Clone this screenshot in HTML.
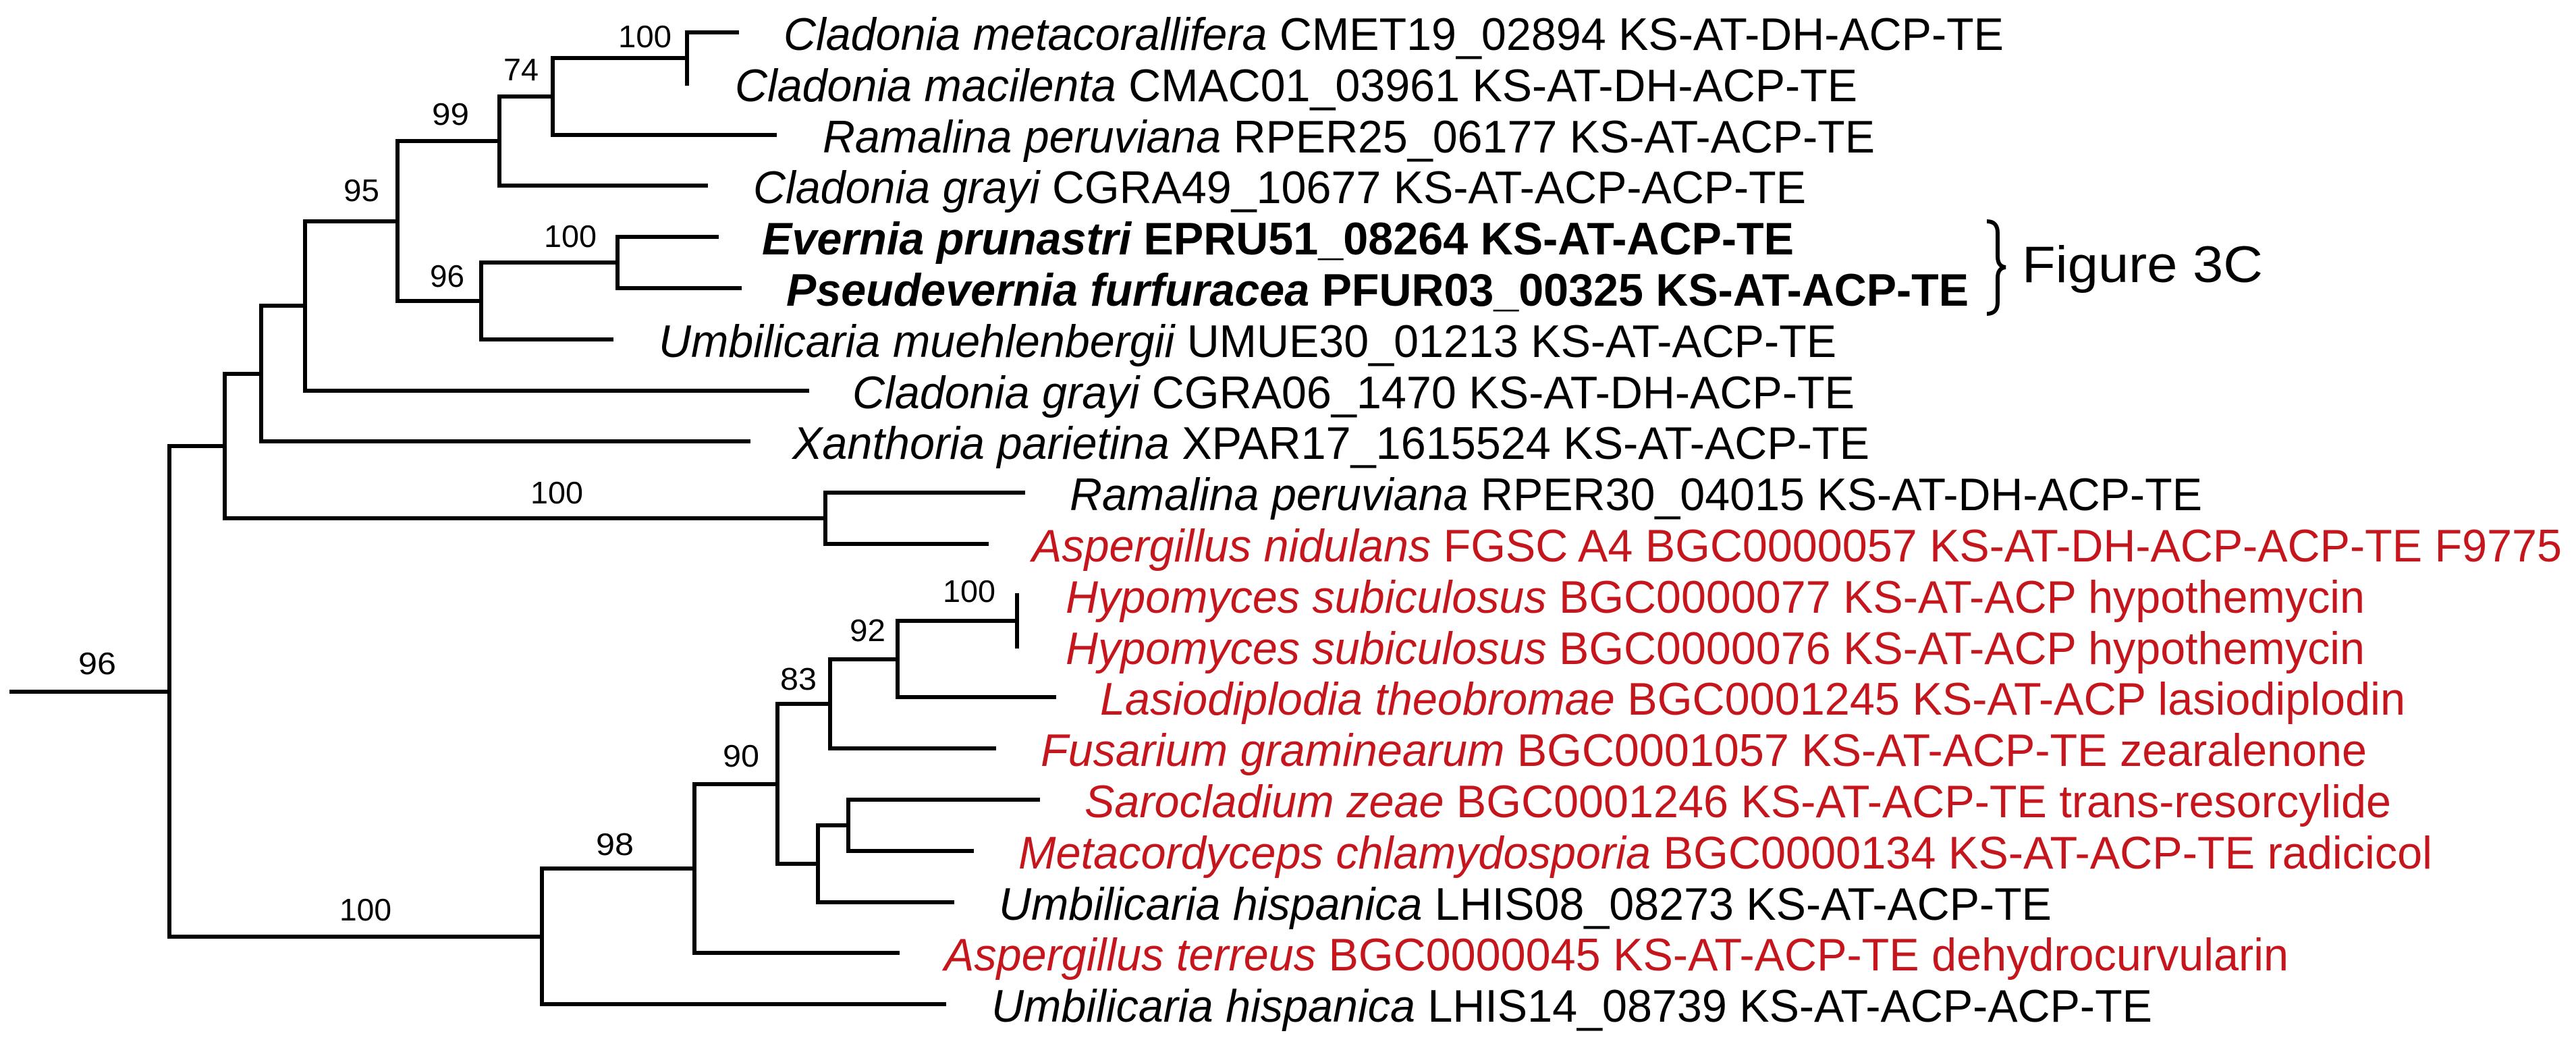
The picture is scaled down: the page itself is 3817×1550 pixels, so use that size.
<!DOCTYPE html>
<html><head><meta charset="utf-8"><style>
html,body{margin:0;padding:0;background:#fff}
svg{display:block}
text{font-family:"Liberation Sans",Arial,sans-serif}
.t{font-size:68px}
.l{font-size:46px}
.r{fill:#c4161c}
</style></head><body>
<svg width="3817" height="1550" viewBox="0 0 3817 1550" xmlns="http://www.w3.org/2000/svg">
<g stroke="#000" stroke-width="6" fill="none" stroke-linecap="square">
<path d="M17 1025H251M251 661V1388"/>
<path d="M251 661H333M333 554V768"/>
<path d="M333 554H387M387 453V654"/>
<path d="M387 654H1109"/>
<path d="M387 453H452M452 328V579"/>
<path d="M452 579H1196"/>
<path d="M452 328H589M589 209V446"/>
<path d="M589 209H740M740 143V275"/>
<path d="M740 275H1046"/>
<path d="M740 143H819M819 86V200"/>
<path d="M819 200H1148"/>
<path d="M819 86H1018M1018 48V124"/>
<path d="M1018 48H1092"/>
<path d="M589 446H713M713 389V503"/>
<path d="M713 503H906"/>
<path d="M713 389H915M915 351V427"/>
<path d="M915 351H1062M915 427H1096"/>
<path d="M333 768H1223M1223 730V806"/>
<path d="M1223 730H1516M1223 806H1462"/>
<path d="M251 1388H803M803 1287V1488"/>
<path d="M803 1488H1399"/>
<path d="M803 1287H1029M1029 1162V1412"/>
<path d="M1029 1412H1330"/>
<path d="M1029 1162H1152M1152 1043V1280"/>
<path d="M1152 1043H1230M1230 977V1109"/>
<path d="M1230 1109H1473"/>
<path d="M1230 977H1330M1330 920V1033"/>
<path d="M1330 1033H1562"/>
<path d="M1330 920H1507M1507 882V958"/>
<path d="M1152 1280H1212M1212 1223V1337"/>
<path d="M1212 1337H1411"/>
<path d="M1212 1223H1257M1257 1185V1261"/>
<path d="M1257 1185H1538M1257 1261H1440"/>
</g>
<path d="M2944 328 Q2960 328 2960 345 L2960 380 Q2960 395 2972 396 Q2960 397 2960 412 L2960 448 Q2960 465 2944 465" stroke="#000" stroke-width="6" fill="none"/>
<text x="2996" y="418" font-size="76" textLength="357" lengthAdjust="spacingAndGlyphs">Figure 3C</text>

<g class="l">
<text x="916" y="70" textLength="79" lengthAdjust="spacingAndGlyphs">100</text>
<text x="746" y="119" textLength="52" lengthAdjust="spacingAndGlyphs">74</text>
<text x="640" y="185" textLength="55" lengthAdjust="spacingAndGlyphs">99</text>
<text x="509" y="298" textLength="53" lengthAdjust="spacingAndGlyphs">95</text>
<text x="806" y="366" textLength="78" lengthAdjust="spacingAndGlyphs">100</text>
<text x="637" y="425" textLength="51" lengthAdjust="spacingAndGlyphs">96</text>
<text x="786" y="746" textLength="78" lengthAdjust="spacingAndGlyphs">100</text>
<text x="116" y="999" textLength="56" lengthAdjust="spacingAndGlyphs">96</text>
<text x="503" y="1364" textLength="77" lengthAdjust="spacingAndGlyphs">100</text>
<text x="883" y="1267" textLength="56" lengthAdjust="spacingAndGlyphs">98</text>
<text x="1071" y="1136" textLength="54" lengthAdjust="spacingAndGlyphs">90</text>
<text x="1156" y="1022" textLength="54" lengthAdjust="spacingAndGlyphs">83</text>
<text x="1259" y="950" textLength="53" lengthAdjust="spacingAndGlyphs">92</text>
<text x="1397" y="892" textLength="78" lengthAdjust="spacingAndGlyphs">100</text>
</g>

<g class="t">
<text x="1161" y="74" textLength="1808" lengthAdjust="spacingAndGlyphs"><tspan font-style="italic">Cladonia metacorallifera</tspan> CMET19_02894 KS-AT-DH-ACP-TE</text>
<text x="1089" y="150" textLength="1663" lengthAdjust="spacingAndGlyphs"><tspan font-style="italic">Cladonia macilenta</tspan> CMAC01_03961 KS-AT-DH-ACP-TE</text>
<text x="1219" y="226" textLength="1559" lengthAdjust="spacingAndGlyphs"><tspan font-style="italic">Ramalina peruviana</tspan> RPER25_06177 KS-AT-ACP-TE</text>
<text x="1116" y="301" textLength="1560" lengthAdjust="spacingAndGlyphs"><tspan font-style="italic">Cladonia grayi</tspan> CGRA49_10677 KS-AT-ACP-ACP-TE</text>
<text x="1129" y="377" textLength="1529" lengthAdjust="spacingAndGlyphs" font-weight="bold"><tspan font-style="italic">Evernia prunastri</tspan> EPRU51_08264 KS-AT-ACP-TE</text>
<text x="1165" y="453" textLength="1752" lengthAdjust="spacingAndGlyphs" font-weight="bold"><tspan font-style="italic">Pseudevernia furfuracea</tspan> PFUR03_00325 KS-AT-ACP-TE</text>
<text x="976" y="529" textLength="1745" lengthAdjust="spacingAndGlyphs"><tspan font-style="italic">Umbilicaria muehlenbergii</tspan> UMUE30_01213 KS-AT-ACP-TE</text>
<text x="1263" y="605" textLength="1485" lengthAdjust="spacingAndGlyphs"><tspan font-style="italic">Cladonia grayi</tspan> CGRA06_1470 KS-AT-DH-ACP-TE</text>
<text x="1174" y="680" textLength="1596" lengthAdjust="spacingAndGlyphs"><tspan font-style="italic">Xanthoria parietina</tspan> XPAR17_1615524 KS-AT-ACP-TE</text>
<text x="1585" y="756" textLength="1678" lengthAdjust="spacingAndGlyphs"><tspan font-style="italic">Ramalina peruviana</tspan> RPER30_04015 KS-AT-DH-ACP-TE</text>
<text class="r" x="1529" y="832" textLength="2267" lengthAdjust="spacingAndGlyphs"><tspan font-style="italic">Aspergillus nidulans</tspan> FGSC A4 BGC0000057 KS-AT-DH-ACP-ACP-TE F9775</text>
<text class="r" x="1579" y="908" textLength="1925" lengthAdjust="spacingAndGlyphs"><tspan font-style="italic">Hypomyces subiculosus</tspan> BGC0000077 KS-AT-ACP hypothemycin</text>
<text class="r" x="1579" y="984" textLength="1925" lengthAdjust="spacingAndGlyphs"><tspan font-style="italic">Hypomyces subiculosus</tspan> BGC0000076 KS-AT-ACP hypothemycin</text>
<text class="r" x="1630" y="1059" textLength="1934" lengthAdjust="spacingAndGlyphs"><tspan font-style="italic">Lasiodiplodia theobromae</tspan> BGC0001245 KS-AT-ACP lasiodiplodin</text>
<text class="r" x="1542" y="1135" textLength="1965" lengthAdjust="spacingAndGlyphs"><tspan font-style="italic">Fusarium graminearum</tspan> BGC0001057 KS-AT-ACP-TE zearalenone</text>
<text class="r" x="1607" y="1211" textLength="1936" lengthAdjust="spacingAndGlyphs"><tspan font-style="italic">Sarocladium zeae</tspan> BGC0001246 KS-AT-ACP-TE trans-resorcylide</text>
<text class="r" x="1509" y="1287" textLength="2095" lengthAdjust="spacingAndGlyphs"><tspan font-style="italic">Metacordyceps chlamydosporia</tspan> BGC0000134 KS-AT-ACP-TE radicicol</text>
<text x="1480" y="1363" textLength="1560" lengthAdjust="spacingAndGlyphs"><tspan font-style="italic">Umbilicaria hispanica</tspan> LHIS08_08273 KS-AT-ACP-TE</text>
<text class="r" x="1399" y="1438" textLength="1992" lengthAdjust="spacingAndGlyphs"><tspan font-style="italic">Aspergillus terreus</tspan> BGC0000045 KS-AT-ACP-TE dehydrocurvularin</text>
<text x="1469" y="1514" textLength="1720" lengthAdjust="spacingAndGlyphs"><tspan font-style="italic">Umbilicaria hispanica</tspan> LHIS14_08739 KS-AT-ACP-ACP-TE</text>
</g>
</svg>
</body></html>
